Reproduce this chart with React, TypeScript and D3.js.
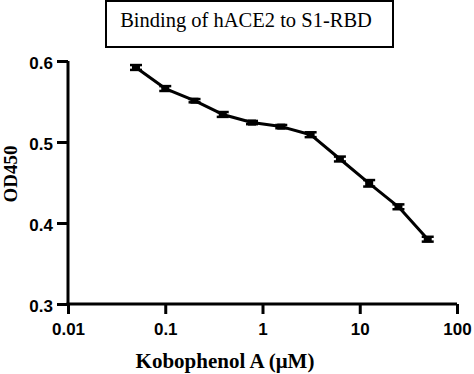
import * as d3 from 'd3'
import React, { useRef, useEffect } from 'react'

// Two-fold dilution series (µM)
const concentrations = [0.05, 0.1, 0.2, 0.39, 0.78, 1.56, 3.125, 6.25, 12.5, 25, 50]
const od450 = [0.592, 0.566, 0.551, 0.534, 0.524, 0.519, 0.509, 0.479, 0.449, 0.420, 0.380]
const sem = [0.003, 0.003, 0.002, 0.003, 0.002, 0.002, 0.003, 0.003, 0.004, 0.003, 0.003]
const xTicks = [0.01, 0.1, 1, 10, 100]
const yTicks = [0.3, 0.4, 0.5, 0.6]

const serif = '"Liberation Serif", "Times New Roman", serif'
const sans = '"Liberation Sans", Arial, sans-serif'

const App = () => {
  const ref = useRef<SVGSVGElement | null>(null)

  useEffect(() => {
    const svg = d3.select(ref.current)
    svg.selectAll('*').remove()

    const x = d3.scaleLog().domain([0.01, 100]).range([68, 457])
    const y = d3.scaleLinear().domain([0.3, 0.6]).range([304, 61])

    // Title box
    svg.append('rect')
      .attr('x', 106).attr('y', 1).attr('width', 287).attr('height', 46)
      .attr('fill', 'white').attr('stroke', 'black').attr('stroke-width', 2)
    svg.append('text')
      .attr('x', 246).attr('y', 27)
      .attr('text-anchor', 'middle')
      .style('font-family', serif)
      .style('font-size', '20.5px')
      .text('Binding of hACE2 to S1-RBD')

    // Axes
    const xAxis = svg.append('g').attr('transform', 'translate(0,304)')
      .call(d3.axisBottom(x).tickValues(xTicks).tickFormat(d => String(d)).tickSize(10).tickSizeOuter(0))
    const yAxis = svg.append('g').attr('transform', 'translate(68,0)')
      .call(d3.axisLeft(y).tickValues(yTicks).tickFormat(d3.format('.1f')).tickSize(11).tickSizeOuter(0))

    ;[xAxis, yAxis].forEach(g => {
      g.select('.domain').attr('stroke-width', 3)
      g.selectAll('.tick line').attr('stroke-width', 3)
      g.selectAll('.tick text')
        .style('font-family', sans)
        .style('font-weight', 'bold')
        .style('font-size', '17px')
        .attr('fill', 'black')
    })
    xAxis.select('.domain').attr('d', 'M66.5,0H457')
    yAxis.select('.domain').attr('d', 'M0,61V305.5')
    xAxis.selectAll('.tick text').attr('y', 19).attr('dy', '0.71em')
    yAxis.selectAll('.tick text').attr('x', -15).attr('dy', '0.45em')

    // Axis titles
    svg.append('text')
      .attr('x', 225).attr('y', 368)
      .attr('text-anchor', 'middle')
      .style('font-family', serif)
      .style('font-weight', 'bold')
      .style('font-size', '21px')
      .text('Kobophenol A (μM)')
    svg.append('text')
      .attr('transform', 'translate(17,174) rotate(-90)')
      .attr('text-anchor', 'middle')
      .style('font-family', serif)
      .style('font-weight', 'bold')
      .style('font-size', '19px')
      .text('OD450')

    const data = concentrations.map((c, i) => ({ c, v: od450[i], e: sem[i] }))

    // Connecting line
    svg.append('path')
      .datum(data)
      .attr('fill', 'none').attr('stroke', 'black').attr('stroke-width', 3)
      .attr('stroke-linejoin', 'round')
      .attr('d', d3.line<any>().x(d => x(d.c)).y(d => y(d.v)))

    // Error bars
    const eb = svg.append('g').attr('stroke', 'black').attr('stroke-width', 2.5)
    data.forEach(d => {
      const cx = x(d.c)
      eb.append('line').attr('x1', cx).attr('x2', cx).attr('y1', y(d.v - d.e)).attr('y2', y(d.v + d.e))
      eb.append('line').attr('x1', cx - 6).attr('x2', cx + 6).attr('y1', y(d.v + d.e)).attr('y2', y(d.v + d.e))
      eb.append('line').attr('x1', cx - 6).attr('x2', cx + 6).attr('y1', y(d.v - d.e)).attr('y2', y(d.v - d.e))
    })

    // Markers
    svg.selectAll('.pt').data(data).enter().append('rect')
      .attr('x', d => x(d.c) - 4).attr('y', d => y(d.v) - 3)
      .attr('width', 8).attr('height', 6).attr('fill', 'black')
  }, [])

  return (
    <svg ref={ref} width={474} height={374}
      style={{ position: 'absolute', left: 0, top: 0, background: 'white' }} />
  )
}

export default App
